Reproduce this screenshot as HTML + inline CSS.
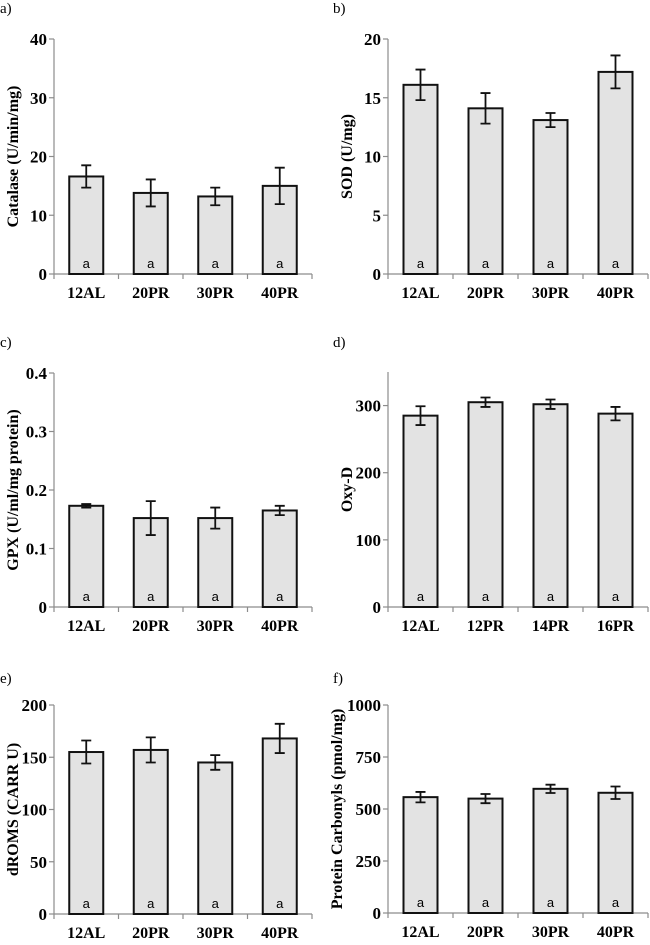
<!DOCTYPE html>
<html><head><meta charset="utf-8"><style>
html,body{margin:0;padding:0;background:#fff;}
svg{display:block;font-family:"Liberation Serif",serif;}
</style></head><body>
<svg id="chart" width="650" height="945" viewBox="0 0 650 945"></svg>
<script>
const categoriesA = ["12AL","20PR","30PR","40PR"];
const categoriesD = ["12AL","12PR","14PR","16PR"];
const catalaseValues = [16.6, 13.8, 13.2, 15.0];
const catalaseErrors = [1.9, 2.3, 1.5, 3.1];
const sodValues = [16.1, 14.1, 13.1, 17.2];
const sodErrors = [1.3, 1.3, 0.6, 1.4];
const gpxValues = [0.173, 0.152, 0.152, 0.165];
const gpxErrors = [0.003, 0.029, 0.018, 0.008];
const oxyValues = [285, 305, 302, 288];
const oxyErrors = [14, 7, 7, 10];
const dromsValues = [155, 157, 145, 168];
const dromsErrors = [11, 12, 7, 14];
const carbValues = [557, 550, 597, 578];
const carbErrors = [25, 22, 20, 30];
const catalaseTicks = [0,10,20,30,40];
const sodTicks = [0,5,10,15,20];
const gpxTicks = [0,0.1,0.2,0.3,0.4];
const oxyTicks = [0,100,200,300];
const dromsTicks = [0,50,100,150,200];
const carbTicks = [0,250,500,750,1000];
const sigLetters = ["a","a","a","a"];

const NS="http://www.w3.org/2000/svg";
const svg=document.getElementById('chart');
function mk(tag,attrs,parent){const e=document.createElementNS(NS,tag);for(const k in attrs)e.setAttribute(k,attrs[k]);(parent||svg).appendChild(e);return e;}

const panels=[
 {id:"a",label:"a)",lx:0,ly:13,title:"Catalase (U/min/mg)",tx:18,ax:54,right:312,y0:274,ytop:39,max:40,ticks:catalaseTicks,cats:categoriesA,vals:catalaseValues,errs:catalaseErrors},
 {id:"b",label:"b)",lx:333,ly:13,title:"SOD (U/mg)",tx:352,ax:388,right:648,y0:274,ytop:39,max:20,ticks:sodTicks,cats:categoriesA,vals:sodValues,errs:sodErrors},
 {id:"c",label:"c)",lx:0,ly:347,title:"GPX (U/ml/mg protein)",tx:18,ax:54,right:312,y0:607,ytop:373,max:0.4,ticks:gpxTicks,cats:categoriesA,vals:gpxValues,errs:gpxErrors},
 {id:"d",label:"d)",lx:333,ly:347,title:"Oxy-D",tx:352,ax:388,right:648,y0:607,ytop:372,max:350,ticks:oxyTicks,cats:categoriesD,vals:oxyValues,errs:oxyErrors},
 {id:"e",label:"e)",lx:0,ly:683,title:"dROMS (CARR U)",tx:18,ax:54,right:312,y0:914,ytop:705,max:200,ticks:dromsTicks,cats:categoriesA,vals:dromsValues,errs:dromsErrors},
 {id:"f",label:"f)",lx:333,ly:683,title:"Protein Carbonyls (pmol/mg)",tx:342,ax:388,right:648,y0:913,ytop:705,max:1000,ticks:carbTicks,cats:categoriesA,vals:carbValues,errs:carbErrors}
];

panels.forEach(p=>{
 const g=mk('g',{});
 
 
 const y=v=>p.y0-(v/p.max)*(p.y0-p.ytop);
 const n=p.cats.length, cw=(p.right-p.ax)/n;
 const x=i=>p.ax+cw*(i+0.5);
 const pl=mk('text',{x:p.lx,y:p.ly,'font-size':15},g);pl.textContent=p.label;
 
 
 const yt=mk('text',{x:p.tx,y:(p.y0+p.ytop)/2,'font-size':16,'font-weight':'bold','text-anchor':'middle',transform:`rotate(-90 ${p.tx} ${(p.y0+p.ytop)/2})`},g);yt.textContent=p.title;
 
 
 mk('line',{x1:p.ax,y1:p.ytop,x2:p.ax,y2:p.y0,stroke:'#8c8c8c','stroke-width':1.2},g);
 mk('line',{x1:p.ax,y1:p.y0,x2:p.right,y2:p.y0,stroke:'#8c8c8c','stroke-width':1.2},g);
 p.ticks.forEach(t=>{
  mk('line',{x1:p.ax-5,y1:y(t),x2:p.ax,y2:y(t),stroke:'#8c8c8c','stroke-width':1.2},g);
  const tl=mk('text',{x:p.ax-7,y:y(t)+6,'font-size':17,'font-weight':'bold','text-anchor':'end'},g);tl.textContent=String(t);
  
  
 });
 for(let i=0;i<=n;i++){mk('line',{x1:p.ax+cw*i,y1:p.y0,x2:p.ax+cw*i,y2:p.y0+5,stroke:'#8c8c8c','stroke-width':1.2},g);}
 p.vals.forEach((v,i)=>{
  const bw=34;
  const r=mk('rect',{x:x(i)-bw/2,y:y(v),width:bw,height:p.y0-y(v),fill:'#e3e3e3',stroke:'#111','stroke-width':2},g);
  
  
  const e=p.errs[i],hi=y(v+e),lo=y(v-e);
  const eb=mk('path',{d:`M${x(i)} ${hi}V${lo}M${x(i)-5} ${hi}H${x(i)+5}M${x(i)-5} ${lo}H${x(i)+5}`,stroke:'#111','stroke-width':1.8,fill:'none'},g);
  
  
  const sl=mk('text',{x:x(i),y:p.y0-6,'font-size':13,'text-anchor':'middle','font-family':'Liberation Sans, sans-serif'},g);sl.textContent=sigLetters[i];
  
  
  const cl=mk('text',{x:x(i),y:p.y0+24,'font-size':16,'font-weight':'bold','text-anchor':'middle'},g);cl.textContent=p.cats[i];
  
  
 });
});
</script>
</body></html>
